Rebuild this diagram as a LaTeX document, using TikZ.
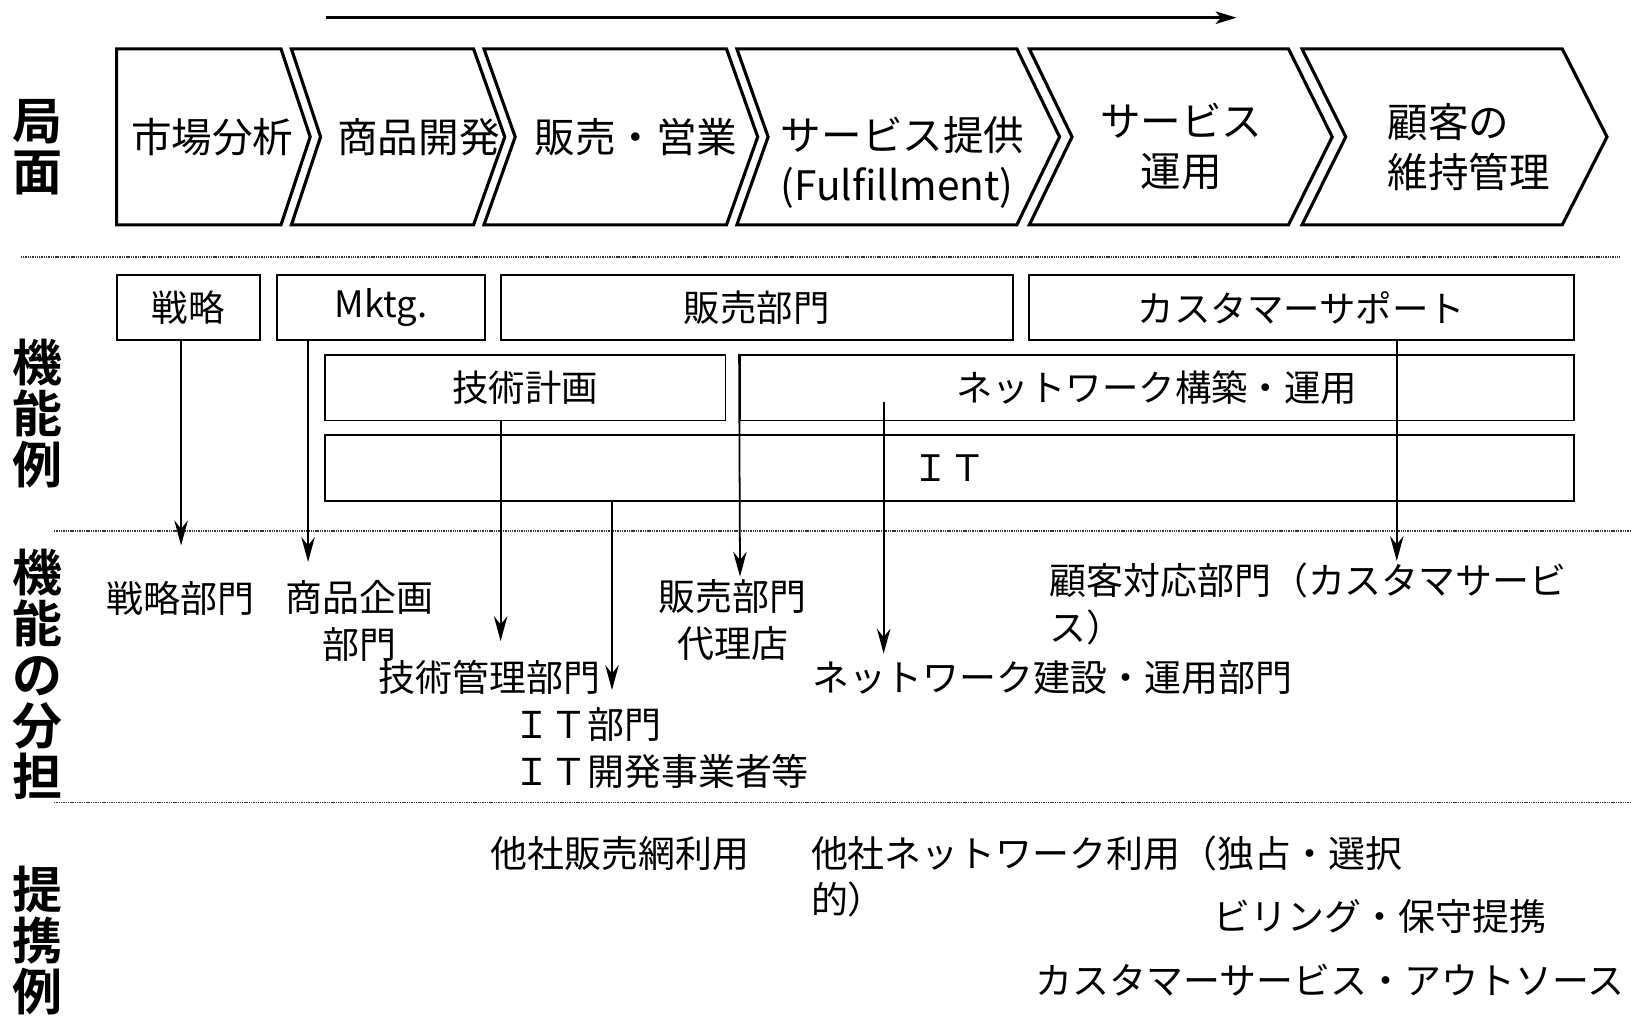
\documentclass[tikz,border=0pt]{standalone}
\usepackage{fontspec}
\setmainfont{Noto Sans CJK JP}
\newfontfamily\jpbold{Noto Sans CJK JP Bold}
\usetikzlibrary{arrows.meta}
\begin{document}
\begin{tikzpicture}[x=1pt,y=-1pt,
  chev/.style={draw, line width=3pt, line join=miter},
  box/.style={draw, line width=1.8pt, inner sep=0pt},
  conn/.style={line width=1.7pt, -{Stealth[length=24pt,width=13pt,inset=8pt]}},
  sep/.style={line width=1.3pt, dash pattern=on 1.3pt off 0.9pt, draw=black!80},
  ctext/.style={font=\fontsize{39}{48}\selectfont, inner sep=0pt},
  btext/.style={font=\fontsize{35}{45}\selectfont},
  ltext/.style={font=\fontsize{35.5}{45}\selectfont, inner sep=0pt},
  side/.style={font=\jpbold\fontsize{48}{49}\selectfont, inner sep=0pt, align=center}
]
\useasboundingbox (0,0) rectangle (1568,977);

% top arrow
\coordinate (ta) at (313,17);
\coordinate (tb) at (1188,17);
\draw[line width=2.5pt, -{Stealth[length=20pt,width=12pt,inset=5pt]}] (ta) -- (tb);

% chevrons
\draw[chev] (112,47) -- (270,47) -- (298,131.5) -- (270,216) -- (112,216) -- cycle;
\draw[chev] (280,47) -- (455,47) -- (485,131.5) -- (455,216) -- (280,216) -- (308,131.5) -- cycle;
\draw[chev] (465,47) -- (698,47) -- (728,131.5) -- (698,216) -- (465,216) -- (495,131.5) -- cycle;
\draw[chev] (708,47) -- (977,47) -- (1018,131.5) -- (977,216) -- (708,216) -- (738,131.5) -- cycle;
\draw[chev] (989,47) -- (1238,47) -- (1280,131.5) -- (1238,216) -- (989,216) -- (1030,131.5) -- cycle;
\draw[chev] (1251,47) -- (1501,47) -- (1544,131.5) -- (1501,216) -- (1251,216) -- (1293,131.5) -- cycle;

\node[ctext] (p1) at (204,132) {市場分析};
\node[ctext] (p2) at (402,132) {商品開発};
\node[ctext] (p3) at (611,132) {販売・営業};
\node[ctext, align=left, anchor=west] (p4) at (750,156.5) {サービス提供\\(Fulfillment)};
\node[ctext, align=center] (p5) at (1135,141) {サービス\\運用};
\node[ctext, align=left, anchor=west] (p6) at (1333,141) {顧客の\\維持管理};

% separators
\coordinate (s1a) at (20,247);  \coordinate (s1b) at (1557,247);
\coordinate (s2a) at (52,510);  \coordinate (s2b) at (1568,510);
\coordinate (s3a) at (52,771);  \coordinate (s3b) at (1568,771);
\draw[sep] (s1a) -- (s1b);
\draw[sep] (s2a) -- (s2b);
\draw[sep] (s3a) -- (s3b);

% side labels
\node[side] (l1) at (36,141) {局\\面};
\node[side] (l2) at (36,397) {機\\能\\例};
\node[side] (l3) at (36,648) {機\\能\\の\\分\\担};
\node[side] (l4) at (36,904) {提\\携\\例};

% function boxes
\node[box, btext, minimum width=138pt, minimum height=63pt] (senryaku) at (181,295.5) {戦略};
\node[box, btext, minimum width=200pt, minimum height=63pt] (mktg) at (366,295.5) {Mktg.};
\node[box, btext, minimum width=492pt, minimum height=63pt] (hanbai) at (727,295.5) {販売部門};
\node[box, btext, minimum width=523pt, minimum height=63pt] (cs) at (1250.5,295.5) {カスタマーサポート};
\node[box, btext, minimum width=385pt, minimum height=63pt] (gijutsu) at (504.5,372.5) {技術計画};
\node[box, btext, minimum width=801pt, minimum height=63pt] (net) at (1111.5,372.5) {ネットワーク構築・運用};
\node[box, btext, minimum width=1200pt, minimum height=63pt] (it) at (912,449.5) {ＩＴ};

% division texts
\node[ltext] (d1) at (173,575) {戦略部門};
\node[ltext, align=center] (d2) at (345,596.5) {商品企画\\部門};
\node[ltext] (d3) at (470,651) {技術管理部門};
\node[ltext, align=left, anchor=west] (d4) at (493,718.5) {ＩＴ部門\\ＩＴ開発事業者等};
\node[ltext, align=center] (d5) at (704,595.5) {販売部門\\代理店};
\node[ltext, align=left, anchor=west] (d6) at (1008,580.5) {顧客対応部門（カスタマサービ\\ス）};
\node[ltext, anchor=west] (d7) at (780,651) {ネットワーク建設・運用部門};

% partnership texts
\node[ltext, anchor=west] (e1) at (471,820) {他社販売網利用};
\node[ltext, align=left, anchor=west] (e2) at (779,842) {他社ネットワーク利用（独占・選択\\的）};
\node[ltext, anchor=west] (e3) at (1166,881) {ビリング・保守提携};
\node[ltext, anchor=west] (e4) at (995,942) {カスタマーサービス・アウトソース};

% connectors
\coordinate (t1) at (174,524);
\coordinate (t2) at (296,540);
\coordinate (t3) at (481,616);
\coordinate (t4) at (588,663);
\coordinate (t5) at (711,554);
\coordinate (s6) at (849,386);
\coordinate (t6) at (849,628);
\coordinate (t7) at (1342,539);
\draw[conn] (senryaku.south -| t1) -- (t1);
\draw[conn] (mktg.south -| t2) -- (t2);
\draw[conn] (gijutsu.south -| t3) -- (t3);
\draw[conn] (it.south -| t4) -- (t4);
\draw[conn] (net.north west) -- (t5);
\draw[conn] (s6) -- (t6);
\draw[conn] (cs.south -| t7) -- (t7);
\end{tikzpicture}
\end{document}
